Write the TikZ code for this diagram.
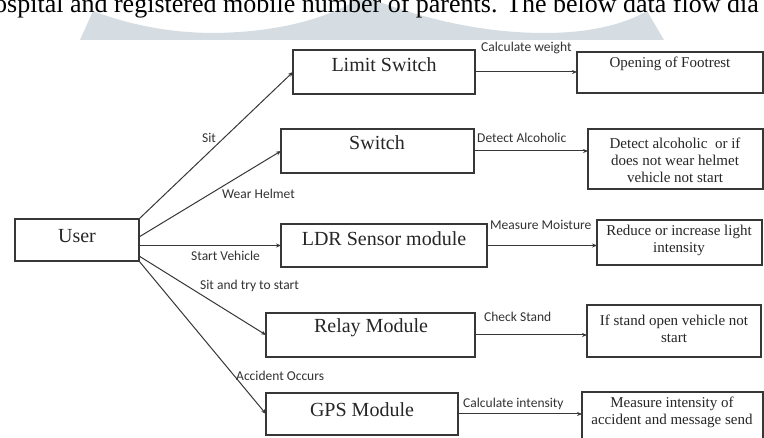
\documentclass[tikz,border=0pt]{standalone}
\usepackage{fontspec}
\setmainfont{Liberation Serif}
\newfontfamily\labfont{Carlito}
\usetikzlibrary{arrows.meta,calc}
\definecolor{wm}{RGB}{214,221,226}
\definecolor{ln}{RGB}{55,55,55}
\begin{document}
\begin{tikzpicture}[x=1pt,y=-1pt,
  box/.style={draw=ln, line width=1.3pt, inner sep=0pt, outer sep=0pt, anchor=north west},
  ttl/.style={font=\fontsize{20}{24}\selectfont, inner sep=0pt, text=black!85},
  sub/.style={font=\fontsize{15}{17}\selectfont, align=center, inner sep=0pt, text=black!85},
  lab/.style={font=\labfont\fontsize{13.5}{16}\selectfont, inner sep=0pt, text=black!80},
  flow/.style={draw=ln, line width=1pt, -{Stealth[length=5pt,width=4pt]}},
  hdr/.style={font=\fontsize{26}{30}\selectfont, inner sep=0pt, anchor=base west}]
\useasboundingbox (0,0) rectangle (764,438);
\clip (0,0) rectangle (764,438);
\fill[white] (0,0) rectangle (764,438);
% watermark
\fill[wm] (80,40) -- (93,11) .. controls (130,25) and (170,33) .. (215,33)
  .. controls (280,32) and (330,18) .. (363,-4)
  .. controls (420,18) and (480,33) .. (545,33)
  .. controls (590,33) and (625,24) .. (647,11) -- (664,40) -- cycle;
% header text
\node[hdr] (head) at (-6,13) {ospital and registered mobile number of parents. The below data flow dia};
% boxes
\node[box, minimum width=124, minimum height=42] (user) at (15,219) {};
\node[box, minimum width=182, minimum height=44] (limit) at (293,50) {};
\node[box, minimum width=186, minimum height=41] (opening) at (577,52) {};
\node[box, minimum width=193, minimum height=44] (switch) at (281,129) {};
\node[box, minimum width=175, minimum height=60] (detect) at (588,129) {};
\node[box, minimum width=206, minimum height=43] (ldr) at (281,224) {};
\node[box, minimum width=165, minimum height=45] (reduce) at (597,220) {};
\node[box, minimum width=209, minimum height=44] (relay) at (266,313) {};
\node[box, minimum width=174, minimum height=52] (ifstand) at (587,305) {};
\node[box, minimum width=192, minimum height=42] (gps) at (266,393) {};
\node[box, minimum width=181, minimum height=50] (measure) at (582,392) {};
% box texts
\node[ttl] (userT) at (77,236) {User};
\node[ttl] (limitT) at (384,65) {Limit Switch};
\node[ttl] (switchT) at (377,143) {Switch};
\node[ttl] (ldrT) at (384,239) {LDR Sensor module};
\node[ttl] (relayT) at (371,328) {Relay Module};
\node[ttl] (gpsT) at (362,410) {GPS Module};
\node[sub] (openingT) at (670,64) {Opening of Footrest};
\node[sub] (detectT) at (675,160) {Detect alcoholic\ \ or if\\does not wear helmet\\vehicle not start};
\node[sub] (reduceT) at (679,240) {Reduce or increase light\\intensity};
\node[sub] (ifstandT) at (674,329) {If stand open vehicle not\\start};
\node[sub] (measureT) at (672,412) {Measure intensity of\\accident and message send};
% connectors from user
\draw[flow] (user.north east) -- (limit.west);
\draw[flow] ($(user.east)+(0,-3)$) -- (switch.west);
\draw[flow] (user.east |- ldr.west) -- (ldr.west);
\draw[flow] ($(user.east)+(0,16)$) -- (relay.west);
\draw[flow] (user.south east) -- (gps.west);
% connectors to results
\draw[flow] (limit.east) -- (opening.west |- limit.east);
\draw[flow] (switch.east) -- (detect.west |- switch.east);
\draw[flow] (ldr.east) -- (reduce.west |- ldr.east);
\draw[flow] (relay.east) -- (ifstand.west |- relay.east);
\draw[flow] (gps.east) -- (measure.west |- gps.east);
% labels
\node[lab, anchor=west] (l1) at (481,48) {Calculate weight};
\node[lab, anchor=west] (l2) at (477,138) {Detect Alcoholic};
\node[lab, anchor=west] (l3) at (490,225) {Measure Moisture};
\node[lab, anchor=west] (l4) at (484,317) {Check Stand};
\node[lab, anchor=west] (l5) at (463,404) {Calculate intensity};
\node[lab, anchor=west] (l6) at (202,138) {Sit};
\node[lab, anchor=west] (l7) at (222,194) {Wear Helmet};
\node[lab, anchor=west] (l8) at (191,256) {Start Vehicle};
\node[lab, anchor=west] (l9) at (200,286) {Sit and try to start};
\node[lab, anchor=west] (l10) at (236,376) {Accident Occurs};
\end{tikzpicture}
\end{document}
